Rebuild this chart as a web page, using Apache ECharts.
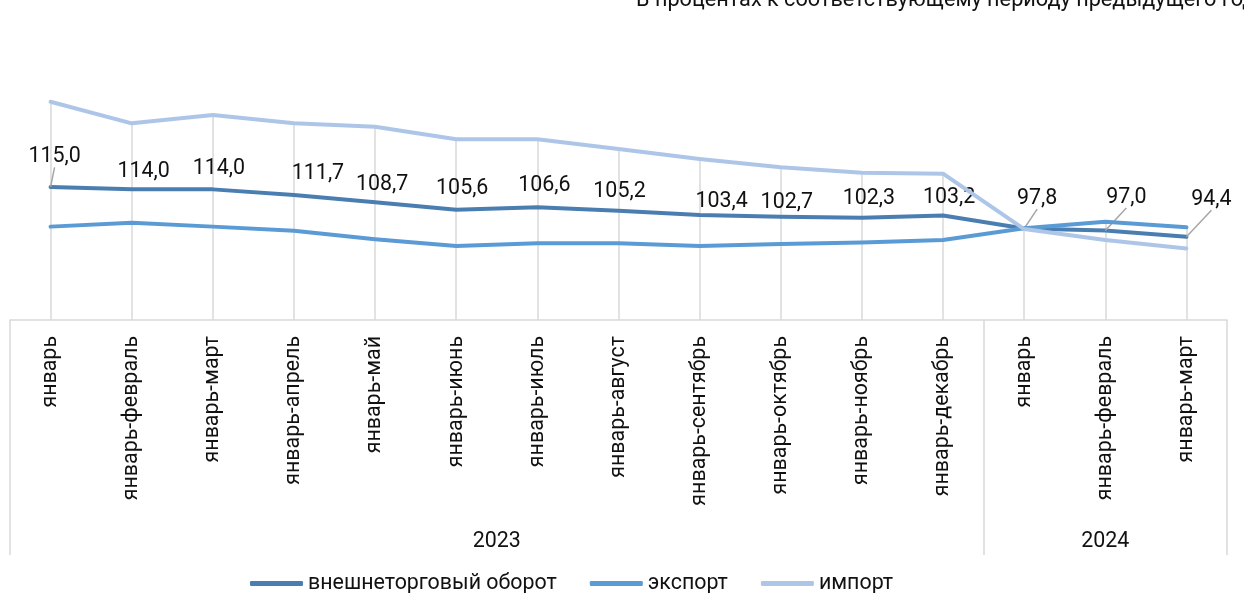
<!DOCTYPE html>
<html>
<head>
<meta charset="utf-8">
<script src="https://cdn.jsdelivr.net/npm/echarts@6/dist/echarts.min.js"></script>
<style>html,body{margin:0;padding:0;background:#fff;}#chart{width:1244px;height:593px;}</style>
</head>
<body>
<div id="chart"></div>
<script>
const titleText = 'В процентах к соответствующему периоду предыдущего года';
const categories = ['январь','январь-февраль','январь-март','январь-апрель','январь-май','январь-июнь','январь-июль','январь-август','январь-сентябрь','январь-октябрь','январь-ноябрь','январь-декабрь','январь','январь-февраль','январь-март'];
const years = ['2023','2023','2023','2023','2023','2023','2023','2023','2023','2023','2023','2023','2024','2024','2024'];
const seriesNames = ['внешнеторговый оборот','экспорт','импорт'];
const turnover = [115.0,114.0,114.0,111.7,108.7,105.6,106.6,105.2,103.4,102.7,102.3,103.2,97.8,97.0,94.4];
const exportVals = [98.6,100.2,98.6,96.9,93.4,90.6,91.7,91.7,90.6,91.4,92.0,93.1,97.9,100.6,98.3];
const importVals = [150.2,141.3,144.7,141.3,139.9,134.7,134.7,130.7,126.6,123.1,120.9,120.5,97.6,93.1,89.6];

// styling (label placement relative to the point, in px)
const labelOffsets = [[4,-30],[12,-18],[6,-21],[24,-21],[7,-18],[6,-21],[7,-22],[1,-19],[22,-13],[6,-14],[7,-19],[6,-18],[13,-30],[21,-33],[25,-37]];
const leaderIdx = [0,12,13,14];
const colors = ['#4a7eb1','#5b9bd5','#adc6e8'];
const FONT = 'Roboto';
const FS = 21.4;
const TXT = '#111';
const GRIDC = '#d9d9d9';
const Y_MIN = 60, Y_MAX = 160;

const groups = [];
years.forEach((y, i) => {
  const g = groups[groups.length - 1];
  if (!g || g.name !== y) groups.push({name: y, start: i, end: i + 1});
  else g.end = i + 1;
});
const boundaries = [0].concat(groups.map(g => g.end));
const centers = groups.map(g => (g.start + g.end) / 2);

const chart = echarts.init(document.getElementById('chart'));
const fmt = v => v.toFixed(1).replace('.', ',');

const lineSeries = (name, vals, idx, withLabels) => ({
  name: name,
  type: 'line',
  xAxisIndex: 0,
  yAxisIndex: 0,
  z: 2 + idx,
  symbol: 'circle',
  symbolSize: 0.1,
  showSymbol: withLabels,
  itemStyle: {color: colors[idx]},
  lineStyle: {color: colors[idx], width: 4, cap: 'round', join: 'round'},
  silent: true,
  animation: false,
  data: vals.map((v, i) => withLabels ? {value: v, labelLine: {show: leaderIdx.indexOf(i) >= 0}} : v),
  label: withLabels ? {
    show: true,
    position: 'top',
    formatter: p => fmt(p.value),
    fontFamily: FONT, fontSize: FS, color: TXT
  } : {show: false},
  labelLine: withLabels ? {show: false, lineStyle: {color: '#a6a6a6', width: 1.5}} : undefined,
  labelLayout: withLabels ? function (params) {
    const o = labelOffsets[params.dataIndex];
    return {
      x: params.rect.x + params.rect.width / 2 + o[0],
      y: params.rect.y + params.rect.height / 2 + o[1],
      align: 'center', verticalAlign: 'middle'
    };
  } : undefined,
  markLine: idx === 0 ? {
    silent: true, z: 1, symbol: 'none', animation: false,
    label: {show: false},
    lineStyle: {color: GRIDC, width: 1.5, type: 'solid'},
    emphasis: {disabled: true},
    data: categories.map((c, i) => [
      {coord: [i, Math.max(turnover[i], exportVals[i], importVals[i])]},
      {coord: [i, Y_MIN]}
    ])
  } : undefined
});

const option = {
  backgroundColor: '#fff',
  animation: false,
  textStyle: {fontFamily: FONT},
  title: {
    text: titleText, left: 631, top: -15,
    textStyle: {fontFamily: FONT, fontSize: 21.7, fontWeight: 'normal', color: TXT}
  },
  legend: {
    data: seriesNames.map((n, i) => ({name: n, itemStyle: {color: colors[i], opacity: 1}})),
    left: 245, top: 568,
    icon: 'roundRect',
    itemWidth: 53, itemHeight: 5, itemGap: 33,
    textStyle: {fontFamily: FONT, fontSize: FS, color: TXT},
    selectedMode: false
  },
  grid: {left: 10, right: 17, top: 78.1, bottom: 273, containLabel: false},
  xAxis: [{
    type: 'category',
    data: categories,
    boundaryGap: true,
    axisLine: {show: true, lineStyle: {color: GRIDC, width: 1.5}},
    axisTick: {show: false},
    splitLine: {show: false},
    axisLabel: {
      rotate: 90, interval: 0, margin: 16,
      fontFamily: FONT, fontSize: FS, color: TXT
    }
  }, {
    type: 'value',
    position: 'bottom',
    offset: 235,
    min: 0, max: categories.length,
    axisLine: {show: false},
    splitLine: {show: false},
    axisTick: {
      show: true, inside: true, length: 235,
      customValues: boundaries,
      lineStyle: {color: GRIDC, width: 1.5}
    },
    axisLabel: {
      show: true, inside: true, margin: 3,
      customValues: centers,
      formatter: v => {
        const k = centers.findIndex(c => Math.abs(c - v) < 1e-6);
        return k >= 0 ? groups[k].name : '';
      },
      fontFamily: FONT, fontSize: FS, color: TXT
    }
  }],
  yAxis: {
    type: 'value', min: Y_MIN, max: Y_MAX,
    show: false,
    splitLine: {show: false}
  },
  series: [
    lineSeries(seriesNames[0], turnover, 0, true),
    lineSeries(seriesNames[1], exportVals, 1, false),
    lineSeries(seriesNames[2], importVals, 2, false)
  ]
};
chart.setOption(option);
</script>
</body>
</html>
